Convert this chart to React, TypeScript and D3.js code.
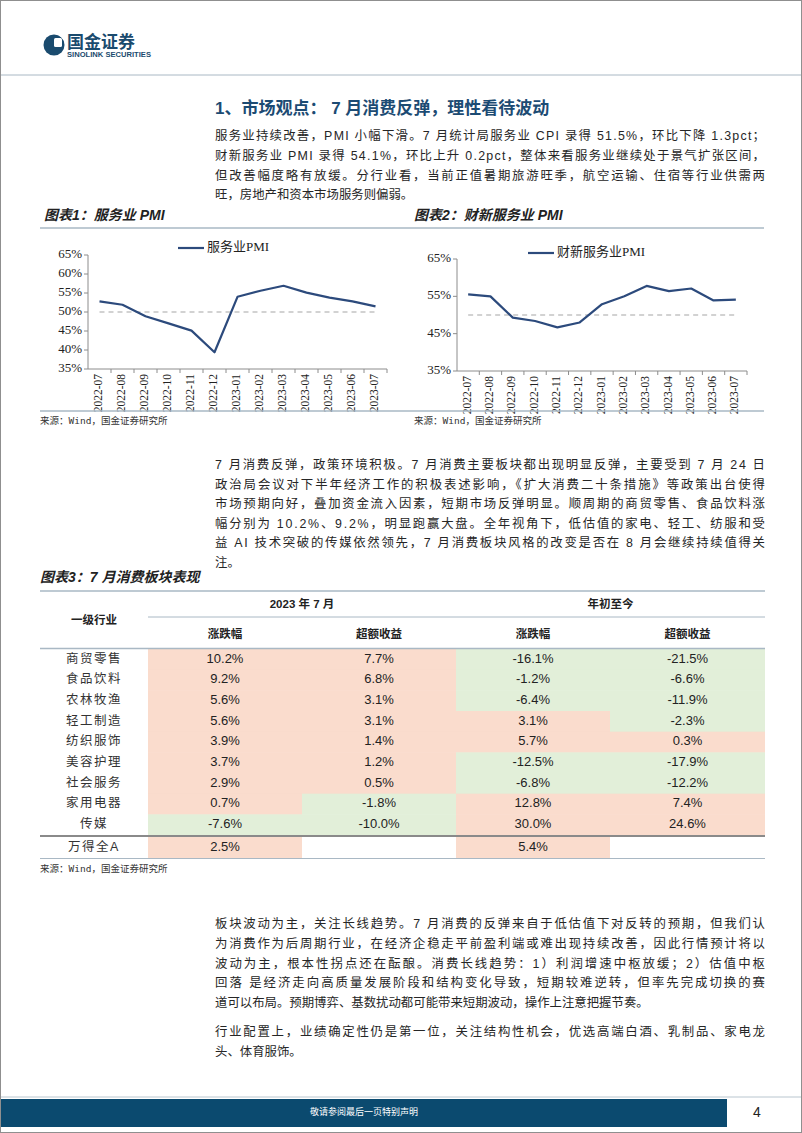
import React from 'react';
import * as d3 from 'd3';

const months = ['2022-07','2022-08','2022-09','2022-10','2022-11','2022-12','2023-01','2023-02','2023-03','2023-04','2023-05','2023-06','2023-07'];
const servicePmi = [52.8, 51.9, 48.9, 47.0, 45.1, 39.4, 54.0, 55.6, 56.9, 55.1, 53.8, 52.8, 51.5];
const caixinPmi = [55.5, 55.0, 49.3, 48.4, 46.7, 48.0, 52.9, 55.0, 57.8, 56.4, 57.1, 53.9, 54.1];
const ticksChart1 = [35, 40, 45, 50, 55, 60, 65];
const ticksChart2 = [35, 45, 55, 65];

const industries = ['商贸零售','食品饮料','农林牧渔','轻工制造','纺织服饰','美容护理','社会服务','家用电器','传媒'];
const julChange = [10.2, 9.2, 5.6, 5.6, 3.9, 3.7, 2.9, 0.7, -7.6];
const julExcess = [7.7, 6.8, 3.1, 3.1, 1.4, 1.2, 0.5, -1.8, -10.0];
const ytdChange = [-16.1, -1.2, -6.4, 3.1, 5.7, -12.5, -6.8, 12.8, 30.0];
const ytdExcess = [-21.5, -6.6, -11.9, -2.3, 0.3, -17.9, -12.2, 7.4, 24.6];
const benchName = '万得全A';
const benchValues: (number | null)[] = [2.5, null, 5.4, null];

const p1 = [
  '服务业持续改善，PMI 小幅下滑。7 月统计局服务业 CPI 录得 51.5%，环比下降 1.3pct；',
  '财新服务业 PMI 录得 54.1%，环比上升 0.2pct，整体来看服务业继续处于景气扩张区间，',
  '但改善幅度略有放缓。分行业看，当前正值暑期旅游旺季，航空运输、住宿等行业供需两',
  '旺，房地产和资本市场服务则偏弱。',
];
const p2 = [
  '7 月消费反弹，政策环境积极。7 月消费主要板块都出现明显反弹，主要受到 7 月 24 日',
  '政治局会议对下半年经济工作的积极表述影响，《扩大消费二十条措施》等政策出台使得',
  '市场预期向好，叠加资金流入因素，短期市场反弹明显。顺周期的商贸零售、食品饮料涨',
  '幅分别为 10.2%、9.2%，明显跑赢大盘。全年视角下，低估值的家电、轻工、纺服和受',
  '益 AI 技术突破的传媒依然领先，7 月消费板块风格的改变是否在 8 月会继续持续值得关',
  '注。',
];
const p3 = [
  '板块波动为主，关注长线趋势。7 月消费的反弹来自于低估值下对反转的预期，但我们认',
  '为消费作为后周期行业，在经济企稳走平前盈利端或难出现持续改善，因此行情预计将以',
  '波动为主，根本性拐点还在酝酿。消费长线趋势：1）利润增速中枢放缓；2）估值中枢',
  '回落 是经济走向高质量发展阶段和结构变化导致，短期较难逆转，但率先完成切换的赛',
  '道可以布局。预期博弈、基数扰动都可能带来短期波动，操作上注意把握节奏。',
];
const p4 = [
  '行业配置上，业绩确定性仍是第一位，关注结构性机会，优选高端白酒、乳制品、家电龙',
  '头、体育服饰。',
];

const SANS = 'Liberation Sans, Arial, Noto Sans CJK SC, sans-serif';
const SERIF = 'Liberation Serif, Times New Roman, Noto Sans CJK SC, serif';
const MONO = 'DejaVu Sans Mono, Noto Sans CJK SC, monospace';
const NAVY = '#2c4a7c';
const RULE = '#a9b8c4';
const PINK = '#fadccd';
const GREEN = '#e2efd9';

function Paragraph({ lines, x, y0, step, width }: { lines: string[]; x: number; y0: number; step: number; width: number }) {
  return (
    <g fontFamily={SANS} fontSize={12.4} fill="#262626">
      {lines.map((l, i) => {
        const last = i === lines.length - 1;
        return (
          <text key={i} x={x} y={y0 + i * step} dominantBaseline="middle"
            {...(last ? {} : { textLength: width, lengthAdjust: 'spacing' })}>{l}</text>
        );
      })}
    </g>
  );
}

function LineChart({ x0, x1, yTop, yBot, values, ticks, legend, legendX, legendY }:
  { x0: number; x1: number; yTop: number; yBot: number; values: number[]; ticks: number[]; legend: string; legendX: number; legendY: number }) {
  const x = d3.scaleBand<string>().domain(months).range([x0, x1]).padding(0);
  const y = d3.scaleLinear().domain([35, 65]).range([yBot, yTop]);
  const cx = (m: string) => (x(m) as number) + x.bandwidth() / 2;
  const line = d3.line<number>().x((_, i) => cx(months[i])).y(d => y(d));
  const boundaries = d3.range(months.length + 1).map(i => x0 + i * x.step());
  return (
    <g>
      <line x1={cx(months[0])} x2={cx(months[months.length - 1])} y1={y(50)} y2={y(50)}
        stroke="#a6a6a6" strokeWidth={1.2} strokeDasharray="5,4" />
      <line x1={x0} x2={x0} y1={yTop} y2={yBot} stroke="#8c8c8c" strokeWidth={1} />
      <line x1={x0} x2={x1} y1={yBot} y2={yBot} stroke="#8c8c8c" strokeWidth={1} />
      {ticks.map(t => (
        <g key={t}>
          <line x1={x0 - 4} x2={x0} y1={y(t)} y2={y(t)} stroke="#8c8c8c" />
          <text x={x0 - 6} y={y(t)} textAnchor="end" dominantBaseline="middle" fontFamily={SERIF} fontSize={13} fill="#222">{t}%</text>
        </g>
      ))}
      {boundaries.slice(1).map((b, i) => (
        <line key={i} x1={b} x2={b} y1={yBot} y2={yBot + 4} stroke="#8c8c8c" />
      ))}
      {months.map(m => (
        <text key={m} transform={`translate(${cx(m)},${yBot + 5}) rotate(-90)`} textAnchor="end" dominantBaseline="middle"
          fontFamily={SERIF} fontSize={11.5} fill="#222">{m}</text>
      ))}
      <path d={line(values) as string} fill="none" stroke={NAVY} strokeWidth={2.2} strokeLinejoin="round" />
      <line x1={legendX} x2={legendX + 26} y1={legendY} y2={legendY} stroke={NAVY} strokeWidth={2.2} />
      <text x={legendX + 29} y={legendY} dominantBaseline="middle" fontFamily={SERIF} fontSize={13} fill="#222">{legend}</text>
    </g>
  );
}

function fmt(v: number) { return `${v.toFixed(1)}%`; }

function Table() {
  const cols = [40, 148, 302, 456, 610, 765];
  const rowY = d3.scaleBand<string>().domain(industries).range([649, 835]).padding(0);
  const series = [julChange, julExcess, ytdChange, ytdExcess];
  const benchTop = 837, benchBot = 858;
  return (
    <g fontFamily={SANS}>
      {industries.map((ind, r) => series.map((s, c) => (
        <rect key={`${r}-${c}`} x={cols[c + 1]} y={rowY(ind) as number} width={cols[c + 2] - cols[c + 1]} height={rowY.bandwidth() + 0.5}
          fill={s[r] >= 0 ? PINK : GREEN} />
      )))}
      {benchValues.map((v, c) => v === null ? null : (
        <rect key={`b${c}`} x={cols[c + 1]} y={benchTop} width={cols[c + 2] - cols[c + 1]} height={benchBot - benchTop}
          fill={v >= 0 ? PINK : GREEN} />
      ))}
      <line x1={cols[0]} x2={cols[5]} y1={591} y2={591} stroke={RULE} strokeWidth={1.5} />
      <line x1={cols[1]} x2={cols[5]} y1={617} y2={617} stroke={RULE} strokeWidth={1} />
      <line x1={cols[0]} x2={cols[5]} y1={648.5} y2={648.5} stroke={RULE} strokeWidth={1.5} />
      <line x1={cols[0]} x2={cols[5]} y1={836} y2={836} stroke="#8a8a8a" strokeWidth={2} />
      <line x1={cols[0]} x2={cols[5]} y1={858.5} y2={858.5} stroke={RULE} strokeWidth={1.2} />
      <text x={(cols[1] + cols[3]) / 2} y={605} textAnchor="middle" dominantBaseline="middle" fontSize={11.5} fontWeight="bold" fill="#222">2023 年 7 月</text>
      <text x={(cols[3] + cols[5]) / 2} y={605} textAnchor="middle" dominantBaseline="middle" fontSize={11.5} fontWeight="bold" fill="#222">年初至今</text>
      <text x={(cols[0] + cols[1]) / 2} y={621} textAnchor="middle" dominantBaseline="middle" fontSize={11.5} fontWeight="bold" fill="#222">一级行业</text>
      {['涨跌幅','超额收益','涨跌幅','超额收益'].map((h, c) => (
        <text key={c} x={(cols[c + 1] + cols[c + 2]) / 2} y={635} textAnchor="middle" dominantBaseline="middle" fontSize={11.5} fontWeight="bold" fill="#222">{h}</text>
      ))}
      {industries.map((ind, r) => (
        <g key={ind}>
          <text x={(cols[0] + cols[1]) / 2} y={(rowY(ind) as number) + rowY.bandwidth() / 2} textAnchor="middle" dominantBaseline="middle"
            fontSize={12.5} letterSpacing={1.5} fill="#333">{ind}</text>
          {series.map((s, c) => (
            <text key={c} x={(cols[c + 1] + cols[c + 2]) / 2} y={(rowY(ind) as number) + rowY.bandwidth() / 2} textAnchor="middle" dominantBaseline="middle"
              fontSize={13} fill="#222">{fmt(s[r])}</text>
          ))}
        </g>
      ))}
      <text x={(cols[0] + cols[1]) / 2} y={(benchTop + benchBot) / 2} textAnchor="middle" dominantBaseline="middle" fontSize={12.5} letterSpacing={1.5} fill="#333">{benchName}</text>
      {benchValues.map((v, c) => v === null ? null : (
        <text key={c} x={(cols[c + 1] + cols[c + 2]) / 2} y={(benchTop + benchBot) / 2} textAnchor="middle" dominantBaseline="middle" fontSize={13} fill="#222">{fmt(v)}</text>
      ))}
    </g>
  );
}

export default function App() {
  return (
    <svg width={802} height={1133} style={{ position: 'absolute', left: 0, top: 0, background: '#fff' }}>
      <rect x={0.5} y={0.5} width={801} height={1132} fill="#fff" stroke="#8f8f8f" />
      {/* logo */}
      <circle cx={54} cy={45} r={10.5} fill="#1a4b6e" />
      <rect x={54} y={38} width={8} height={9} rx={1.5} fill="#fff" />
      <path d="M58,34 L66,34 L66,42 Z" fill="#fff" />
      <text x={67} y={47.5} fontFamily={SANS} fontWeight="bold" fontSize={17} fill="#1a4b6e">国金证券</text>
      <text x={67} y={57} fontFamily={SANS} fontWeight="bold" fontSize={7.6} fill="#1a4b6e">SINOLINK SECURITIES</text>
      <line x1={1} x2={801} y1={75} y2={75} stroke={RULE} strokeWidth={1} />

      <text x={215} y={110} dominantBaseline="middle" fontFamily={SANS} fontWeight="bold" fontSize={17} fill="#1c4b73">1、市场观点：  7 月消费反弹，理性看待波动</text>
      <Paragraph lines={p1} x={215} y0={137} step={19.7} width={550} />

      <g fontFamily={SANS} fontSize={14} fontWeight="bold" fontStyle="italic" fill="#222">
        <text x={44} y={216} dominantBaseline="middle">图表1：服务业 PMI</text>
        <text x={414} y={216} dominantBaseline="middle">图表2：财新服务业 PMI</text>
      </g>
      <line x1={40} x2={764} y1={228} y2={228} stroke={RULE} strokeWidth={1.3} />

      <LineChart x0={88} x1={387} yTop={255} yBot={369} values={servicePmi} ticks={ticksChart1} legend="服务业PMI" legendX={178} legendY={248} />
      <LineChart x0={457} x1={747} yTop={259} yBot={371} values={caixinPmi} ticks={ticksChart2} legend="财新服务业PMI" legendX={528} legendY={253} />

      <line x1={40} x2={764} y1={411} y2={411} stroke={RULE} strokeWidth={1.3} />
      <g fontFamily={MONO} fontSize={9.5} fill="#333">
        <text x={40} y={421} dominantBaseline="middle">来源：Wind，国金证券研究所</text>
        <text x={414} y={421} dominantBaseline="middle">来源：Wind，国金证券研究所</text>
      </g>

      <Paragraph lines={p2} x={215} y0={466} step={19.5} width={550} />

      <text x={40} y={578} dominantBaseline="middle" fontFamily={SANS} fontSize={14} fontWeight="bold" fontStyle="italic" fill="#222">图表3：7 月消费板块表现</text>
      <Table />
      <text x={40} y={869} dominantBaseline="middle" fontFamily={MONO} fontSize={9.5} fill="#333">来源：Wind，国金证券研究所</text>

      <Paragraph lines={p3} x={215} y0={925} step={19.7} width={550} />
      <Paragraph lines={p4} x={215} y0={1033} step={19.7} width={550} />

      <line x1={1} x2={801} y1={1097} y2={1097} stroke="#b9c6cf" strokeWidth={1} />
      <rect x={1} y={1099} width={726} height={28} fill="#0b4a6f" />
      <text x={364} y={1113} textAnchor="middle" dominantBaseline="middle" fontFamily={SANS} fontSize={9} fill="#fff">敬请参阅最后一页特别声明</text>
      <text x={757} y={1113} textAnchor="middle" dominantBaseline="middle" fontFamily={SANS} fontSize={14} fill="#222">4</text>
    </svg>
  );
}
